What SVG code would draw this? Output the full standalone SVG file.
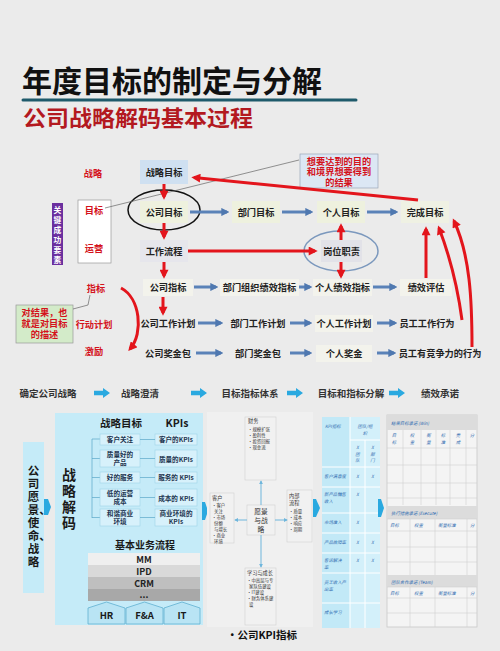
<svg xmlns="http://www.w3.org/2000/svg" width="500" height="651" viewBox="0 0 500 651">
<defs>
<style>
text{font-family:"Noto Sans CJK SC","Noto Sans",sans-serif;}
.t{font-size:9.2px;font-weight:bold;fill:#222;text-anchor:middle}
.r{font-size:9.2px;font-weight:bold;fill:#d4121b;text-anchor:middle}
.ra{stroke:#e3151c;stroke-width:3;fill:none;marker-end:url(#mr)}
.ba{stroke:#5a82b8;stroke-width:3;fill:none;marker-end:url(#mb)}
.fb{fill:#f3f3ec}
.st{font-size:9.5px;font-weight:bold;fill:#333;text-anchor:middle}
.ca{fill:#2aa9e0}
.kb{fill:#d7f1fb;stroke:#9fd3e8;stroke-width:0.6}
.kt{font-size:6.6px;font-weight:bold;fill:#1d3550;text-anchor:middle}
.bs{fill:#f1f1f1;stroke:#d2d2d2;stroke-width:0.6}
.bt{font-size:4.4px;fill:#333}
.tg{font-size:4.4px;fill:#2f6bb0;font-style:italic}
.gl{stroke:#d0d0d0;stroke-width:0.6;fill:none}
.wl{stroke:#ffffff;stroke-width:1;fill:none}
.lb{stroke:#6fb6dc;stroke-width:1;fill:none;marker-end:url(#ml)}
</style>
<marker id="mr" viewBox="0 0 10 10" refX="7" refY="5" markerWidth="3.2" markerHeight="3" orient="auto"><path d="M0,0 L10,5 L0,10 z" fill="#e3151c"/></marker>
<marker id="mb" viewBox="0 0 10 10" refX="7" refY="5" markerWidth="2.7" markerHeight="2.7" orient="auto"><path d="M0,0 L10,5 L0,10 z" fill="#4f78b0"/></marker>
<marker id="ml" viewBox="0 0 10 10" refX="8" refY="5" markerWidth="4" markerHeight="4" orient="auto"><path d="M0,0 L10,5 L0,10 z" fill="#6fb6dc"/></marker>
<path id="cy" d="M0,-2.2 H9 V-5 L16,0 L9,5 V2.2 H0 z"/>
</defs>
<rect width="500" height="651" fill="#ebebeb"/>

<!-- Title -->
<g id="title">
<text x="22" y="92" font-size="30" font-weight="bold" fill="#111">年度目标的制定与分解</text>
<line x1="23" y1="100" x2="356" y2="100" stroke="#1e5a6b" stroke-width="3" stroke-linecap="round"/>
<text x="23" y="126" font-size="22" font-weight="bold" fill="#b3191f" textLength="230" lengthAdjust="spacingAndGlyphs">公司战略解码基本过程</text>
</g>

<!-- Upper diagram nodes -->
<g id="ksf">
<rect x="52" y="203" width="11" height="62" fill="#6b2f9f"/>
<text font-size="7.8" font-weight="bold" fill="#fff" text-anchor="middle"><tspan x="57.5" y="213">关</tspan><tspan x="57.5" y="223">键</tspan><tspan x="57.5" y="233">成</tspan><tspan x="57.5" y="243">功</tspan><tspan x="57.5" y="253">要</tspan><tspan x="57.5" y="263">素</tspan></text>
</g>
<g id="lbl-zl"><text class="r" x="93" y="176.5">战略</text></g>
<g id="lbl-box">
<rect x="78" y="200" width="33" height="63" fill="#fff" stroke="#999" stroke-width="0.7"/>
<text class="r" x="94" y="213.5">目标</text>
<text class="r" x="94" y="251.5">运营</text>
</g>
<g id="callout1">
<rect x="300" y="154" width="78" height="34" fill="#dce7f4" stroke="#9aa7b8" stroke-width="0.7"/>
<text class="r" font-size="8.2"><tspan x="339" y="164.5">想要达到的目的</tspan><tspan x="339" y="175">和境界想要得到</tspan><tspan x="339" y="185.5">的结果</tspan></text>
</g>
<g id="n-zlmb"><rect x="140" y="160" width="48" height="24" fill="#cfe0f1"/><text class="t" x="164" y="175.5" font-weight="normal">战略目标</text></g>
<g id="n-gsmb"><ellipse cx="164" cy="210" rx="36" ry="20" fill="none" stroke="#111" stroke-width="1.5"/><rect x="140" y="201" width="48" height="22" fill="#eef1de"/><text class="t" x="164" y="215.5" font-weight="normal">公司目标</text></g>
<g id="n-bmmb"><rect x="232" y="201" width="48" height="22" fill="#eef1de"/><text class="t" x="256" y="215.5" font-weight="normal">部门目标</text></g>
<g id="n-grmb"><rect x="317" y="201" width="48" height="22" fill="#eef1de"/><text class="t" x="341" y="215.5" font-weight="normal">个人目标</text></g>
<g id="n-wcmb"><rect x="401" y="201" width="48" height="22" fill="#eff1e3"/><text class="t" x="425" y="215.5">完成目标</text></g>
<g id="n-gzlc"><rect x="140" y="240" width="48" height="22" fill="#e6e6ec"/><text class="t" x="164" y="254.5" font-weight="normal">工作流程</text></g>
<g id="n-gwzz"><ellipse cx="341" cy="251" rx="37" ry="20" fill="none" stroke="#7b98bd" stroke-width="1.5"/><rect x="321" y="240" width="41" height="22" fill="#e2e2e8"/><text class="t" x="341.5" y="254.5" font-weight="normal">岗位职责</text></g>

<g id="row1">
<rect class="fb" x="143" y="279" width="50" height="17"/><text class="t" x="168" y="290.5">公司指标</text>
<rect class="fb" x="220" y="279" width="79" height="17"/><text class="t" x="259.5" y="290.5">部门组织绩效指标</text>
<rect class="fb" x="313" y="279" width="59" height="17"/><text class="t" x="342.5" y="290.5">个人绩效指标</text>
<rect class="fb" x="400" y="279" width="52" height="17"/><text class="t" x="426" y="290.5">绩效评估</text>
</g>
<g id="row2">
<text class="t" x="168" y="326.5">公司工作计划</text>
<text class="t" x="258" y="326.5">部门工作计划</text>
<rect class="fb" x="315" y="315" width="58" height="17"/><text class="t" x="344" y="326.5">个人工作计划</text>
<text class="t" x="427" y="326.5">员工工作行为</text>
</g>
<g id="row3">
<text class="t" x="168" y="356.5">公司奖金包</text>
<text class="t" x="258" y="356.5">部门奖金包</text>
<rect class="fb" x="316" y="345" width="56" height="17"/><text class="t" x="344" y="356.5">个人奖金</text>
<text class="t" x="440" y="356.5">员工有竞争力的行为</text>
</g>
<g id="left-labels">
<text class="r" x="96" y="292">指标</text>
<text class="r" x="94" y="327.5">行动计划</text>
<text class="r" x="94" y="355">激励</text>
</g>
<g id="callout2">
<rect x="16" y="305" width="57" height="38" fill="#d3ebc9" stroke="#999" stroke-width="0.7"/>
<text class="r" font-size="8.6"><tspan x="44.5" y="316">对结果，也</tspan><tspan x="44.5" y="327">就是对目标</tspan><tspan x="44.5" y="338">的描述</tspan></text>
</g>

<!-- Upper connectors -->
<g id="connectors-upper">
<line x1="105" y1="208" x2="299" y2="160" stroke="#666" stroke-width="0.7"/>
<polyline points="73,309 88,305 90,295" stroke="#666" stroke-width="0.7" fill="none"/>
<line class="ra" x1="164" y1="184" x2="164" y2="197"/>
<line class="ra" x1="164" y1="223" x2="164" y2="237"/>
<line class="ra" x1="164" y1="262" x2="164" y2="276"/>
<line class="ra" x1="163" y1="297" x2="163" y2="313"/>
<line class="ra" x1="188" y1="251" x2="315" y2="251"/>
<line class="ra" x1="341" y1="240" x2="341" y2="226"/>
<line class="ra" x1="341" y1="262" x2="341" y2="276"/>
<line class="ra" x1="418" y1="200" x2="194" y2="177.5"/>
<line class="ra" x1="426" y1="278" x2="426" y2="229"/>
<path class="ra" d="M462,320 C458,290 452,262 439,228"/>
<path class="ra" d="M472,347 C472,300 470,255 454,221"/>
<path class="ra" d="M121,288 C140,298 144,333 130,349"/>
<line class="ba" x1="190" y1="212" x2="227" y2="212"/>
<line class="ba" x1="282" y1="212" x2="311" y2="212"/>
<line class="ba" x1="367" y1="212" x2="396" y2="212"/>
<line class="ba" x1="194" y1="287" x2="216" y2="287"/>
<line class="ba" x1="299" y1="287" x2="310" y2="287"/>
<line class="ba" x1="373" y1="287" x2="395" y2="287"/>
<line class="ba" x1="198" y1="323" x2="221" y2="323"/>
<line class="ba" x1="290" y1="323" x2="310" y2="323"/>
<line class="ba" x1="377" y1="323" x2="395" y2="323"/>
<line class="ba" x1="196" y1="353" x2="221" y2="353"/>
<line class="ba" x1="290" y1="353" x2="310" y2="353"/>
<line class="ba" x1="377" y1="353" x2="394" y2="353"/>
</g>

<!-- Steps row -->
<g id="steps">
<text class="st" x="48" y="396.5">确定公司战略</text>
<text class="st" x="140" y="396.5">战略澄清</text>
<text class="st" x="250" y="396.5">目标指标体系</text>
<text class="st" x="351" y="396.5">目标和指标分解</text>
<text class="st" x="440" y="396.5">绩效承诺</text>
<use href="#cy" class="ca" x="94" y="393"/>
<use href="#cy" class="ca" x="191" y="393"/>
<use href="#cy" class="ca" x="287" y="393"/>
<use href="#cy" class="ca" x="389" y="393"/>
</g>

<!-- Vision panel -->
<g id="vision">
<rect x="23" y="442" width="21" height="151" fill="#c5ebf8"/>
<text font-size="11.5" font-weight="bold" fill="#1a1a1a"><tspan x="27.8" y="474.5">公</tspan><tspan x="27.8" y="487.6">司</tspan><tspan x="27.8" y="500.7">愿</tspan><tspan x="27.8" y="513.8">景、</tspan><tspan x="27.8" y="526.9">使</tspan><tspan x="27.8" y="540">命、</tspan><tspan x="27.8" y="553.1">战</tspan><tspan x="27.8" y="566.2">略</tspan></text>
<polygon class="ca" points="44,499 48,499 51,507 48,515 44,515"/>
</g>

<!-- Strategy decoding panel -->
<g id="decoding">
<rect x="55" y="413" width="148" height="212" fill="#c5ebf8"/>
<text font-size="14" font-weight="bold" fill="#1a1a1a" text-anchor="middle"><tspan x="69" y="480">战</tspan><tspan x="69" y="496">略</tspan><tspan x="69" y="512">解</tspan><tspan x="69" y="528">码</tspan></text>
<text x="121" y="427" font-size="10.5" font-weight="bold" fill="#1a1a1a" text-anchor="middle">战略目标</text>
<text x="177" y="427" font-size="10.5" font-weight="bold" fill="#1a1a1a" text-anchor="middle" font-family="Liberation Sans, sans-serif">KPIs</text>
<path d="M92,439 V518 M92,439 H100 M92,458.5 H100 M92,477.5 H100 M92,497.5 H100 M92,517.5 H100" stroke="#5aa8c8" stroke-width="0.7" fill="none"/>
<rect class="kb" x="100" y="434" width="40" height="11"/>
<rect class="kb" x="100" y="450" width="40" height="17"/>
<rect class="kb" x="100" y="472" width="40" height="11"/>
<rect class="kb" x="100" y="489" width="40" height="17"/>
<rect class="kb" x="100" y="509" width="40" height="17"/>
<rect class="kb" x="155" y="434" width="42" height="11"/>
<rect class="kb" x="155" y="450" width="42" height="17"/>
<rect class="kb" x="155" y="472" width="42" height="11"/>
<rect class="kb" x="155" y="489" width="42" height="17"/>
<rect class="kb" x="155" y="509" width="42" height="17"/>
<path d="M140,439.5 H155 M140,458.5 H155 M140,477.5 H155 M140,497.5 H155 M140,517.5 H155" stroke="#5aa8c8" stroke-width="0.7" fill="none"/>
<text class="kt" x="120" y="442">客户关注</text>
<text class="kt"><tspan x="120" y="457">质量好的</tspan><tspan x="120" y="465">产品</tspan></text>
<text class="kt" x="120" y="480">好的服务</text>
<text class="kt"><tspan x="120" y="496">低的运营</tspan><tspan x="120" y="504">成本</tspan></text>
<text class="kt"><tspan x="120" y="516">和谐商业</tspan><tspan x="120" y="524">环境</tspan></text>
<text class="kt" x="176" y="442">客户的KPIs</text>
<text class="kt" x="176" y="461.5">质量的KPIs</text>
<text class="kt" x="176" y="480">服务的 KPIs</text>
<text class="kt" x="176" y="500.5">成本的 KPIs</text>
<text class="kt"><tspan x="176" y="516">商业环境的</tspan><tspan x="176" y="524">KPIs</tspan></text>
<text x="145" y="549" font-size="10" font-weight="bold" fill="#1a1a1a" text-anchor="middle">基本业务流程</text>
<rect x="88" y="553" width="112" height="12" fill="#efefef"/>
<rect x="88" y="565" width="112" height="12" fill="#d9d9d9"/>
<rect x="88" y="577" width="112" height="12" fill="#bfbfbf"/>
<rect x="88" y="589" width="112" height="12" fill="#a8a8a8"/>
<text font-size="9" font-weight="bold" fill="#222" text-anchor="middle" font-family="Liberation Sans, sans-serif"><tspan x="144" y="562.5">MM</tspan><tspan x="144" y="574.5">IPD</tspan><tspan x="144" y="586.5">CRM</tspan><tspan x="144" y="598">...</tspan></text>
<path d="M88,608 L106.5,602 L125,608 V624 H88 z M126,608 L144.5,602 L163,608 V624 H126 z M164,608 L182,602 L200,608 V624 H164 z" fill="#b9e4f4" stroke="#5fb0d0" stroke-width="0.8"/>
<text font-size="9.5" font-weight="bold" fill="#1a1a1a" text-anchor="middle" font-family="Liberation Sans, sans-serif"><tspan x="106.5" y="619">HR</tspan><tspan x="144.5" y="619">F&amp;A</tspan><tspan x="182" y="619">IT</tspan></text>
<polygon class="ca" points="202,502 205,502 208,511 205,520 202,520"/>
</g>

<!-- BSC panel -->
<g id="bsc">
<rect x="207" y="412" width="106" height="215" fill="#f0f0f0"/>
<rect class="bs" x="245" y="417" width="31" height="63"/>
<text class="bt"><tspan x="248" y="423" font-size="5.2">财务</tspan><tspan x="248" y="431">•规模扩张</tspan><tspan x="248" y="437">•盈利性</tspan><tspan x="248" y="443">•投资回报</tspan><tspan x="248" y="449">•现金流</tspan></text>
<rect class="bs" x="210" y="493" width="24" height="50"/>
<text class="bt"><tspan x="212" y="500" font-size="5.2">客户</tspan><tspan x="212" y="507">•客户</tspan><tspan x="214" y="513">关注</tspan><tspan x="212" y="519">•市场</tspan><tspan x="214" y="525">份额</tspan><tspan x="214" y="531">与增长</tspan><tspan x="212" y="537">•商业</tspan><tspan x="214" y="542.5">环境</tspan></text>
<rect class="bs" x="247" y="505" width="28" height="30"/>
<text font-size="6.8" fill="#333" text-anchor="middle"><tspan x="261" y="514">愿景</tspan><tspan x="261" y="523">与战</tspan><tspan x="261" y="532">略</tspan></text>
<rect class="bs" x="287" y="490" width="25" height="52"/>
<text class="bt"><tspan x="289" y="498" font-size="5.2">内部</tspan><tspan x="289" y="505" font-size="5.2">流程</tspan><tspan x="289" y="513">•质量</tspan><tspan x="289" y="519">•成本</tspan><tspan x="289" y="525">•响应</tspan><tspan x="289" y="531">•周期</tspan></text>
<rect class="bs" x="245" y="568" width="31" height="57"/>
<text class="bt"><tspan x="247" y="575" font-size="5.2">学习与成长</tspan><tspan x="247" y="582">•中高层与专</tspan><tspan x="249" y="588">家队伍建设</tspan><tspan x="247" y="594">•IT建设</tspan><tspan x="247" y="600">•财务体系建</tspan><tspan x="249" y="606">设</tspan></text>
<line class="lb" x1="261" y1="505" x2="261" y2="481"/>
<line class="lb" x1="261" y1="535" x2="261" y2="567"/>
<line class="lb" x1="247" y1="520" x2="235" y2="520"/>
<line class="lb" x1="275" y1="520" x2="287" y2="520"/>
<polygon class="ca" points="313,499 316,499 320,508 316,517 313,517"/>
<text x="262" y="639" font-size="10.5" font-weight="bold" fill="#111" text-anchor="middle">•公司KPI指标</text>
</g>

<!-- KPI table -->
<g id="kpi-table">
<rect x="322" y="417" width="58" height="211" fill="#d3f0fa"/>
<rect x="322" y="417" width="28" height="211" fill="#c2e9f7"/>
<path class="wl" d="M350,417 V628 M365,440 V628 M350,440 H380 M322,467 H380 M322,487 H380 M322,513 H380 M322,533 H380 M322,553 H380 M322,573 H380 M322,603 H380"/>
<text class="tg" x="325" y="428">KPI指标</text>
<text class="tg" text-anchor="middle"><tspan x="365" y="428">团队/组</tspan><tspan x="365" y="435">织</tspan></text>
<text class="tg" text-anchor="middle"><tspan x="357.5" y="449">X</tspan><tspan x="357.5" y="455.5">团</tspan><tspan x="357.5" y="462">队</tspan><tspan x="372.5" y="449">X</tspan><tspan x="372.5" y="455.5">部</tspan><tspan x="372.5" y="462">门</tspan></text>
<text class="tg" x="324" y="478">客户满意度</text>
<text class="tg"><tspan x="324" y="496">新产品销售</tspan><tspan x="324" y="502.5">收入</tspan></text>
<text class="tg" x="324" y="524">市场准入</text>
<text class="tg" x="324" y="544">产品故障率</text>
<text class="tg"><tspan x="324" y="562">客诉解决</tspan><tspan x="324" y="568.5">率</tspan></text>
<text class="tg"><tspan x="324" y="584">员工收入产</tspan><tspan x="324" y="590.5">出率</tspan></text>
<text class="tg" x="324" y="614">成长学习</text>
<text class="tg" text-anchor="middle"><tspan x="357.5" y="478">X</tspan><tspan x="372.5" y="478">X</tspan><tspan x="357.5" y="496">X</tspan><tspan x="357.5" y="524">X</tspan><tspan x="357.5" y="544">X</tspan><tspan x="372.5" y="544">X</tspan><tspan x="357.5" y="562">X</tspan><tspan x="372.5" y="562">X</tspan></text>
<polygon class="ca" points="378,499 381,499 384,508 381,517 378,517"/>
</g>

<!-- Commitment grid -->
<g id="commit-grid">
<rect x="387" y="415" width="90" height="212" fill="#f4f4f4" stroke="#c8c8c8" stroke-width="0.8"/>
<rect x="387" y="415" width="90" height="15" fill="#dcdcdc"/>
<text class="tg" x="391" y="425" font-style="normal">结果目标承诺 (Win)</text>
<path class="gl" d="M403,430 V505 M421,430 V505 M436,430 V505 M450,430 V505 M466,430 V505 M387,448 H477 M387,465 H477 M387,483 H477 M387,498 H477"/>
<text class="tg" font-style="normal" text-anchor="middle"><tspan x="394" y="437">目</tspan><tspan x="394" y="443.5">标</tspan><tspan x="412" y="437">权</tspan><tspan x="412" y="443.5">重</tspan><tspan x="428.5" y="437">衡</tspan><tspan x="428.5" y="443.5">量</tspan><tspan x="443" y="437">标</tspan><tspan x="443" y="443.5">准</tspan><tspan x="458" y="437">完</tspan><tspan x="458" y="443.5">成</tspan><tspan x="472" y="437">分</tspan></text>
<rect x="387" y="506" width="90" height="13" fill="#dcdcdc"/>
<text class="tg" x="391" y="515" font-style="normal">执行措施承诺 (Execute)</text>
<path class="gl" d="M387,519 H477 M387,531 H477 M387,547 H477 M387,562 H477 M410,519 V575 M435,519 V575 M467,519 V575"/>
<text class="tg" font-style="normal"><tspan x="390" y="527">目标</tspan><tspan x="414" y="527">权重</tspan><tspan x="438" y="527">衡量标准</tspan><tspan x="470" y="527">分</tspan></text>
<rect x="387" y="575" width="90" height="12" fill="#dcdcdc"/>
<text class="tg" x="391" y="583.5" font-style="normal">团队合作承诺 (Team)</text>
<path class="gl" d="M387,587 H477 M387,598 H477 M387,613 H477 M410,587 V627 M435,587 V627 M467,587 V627"/>
<text class="tg" font-style="normal"><tspan x="390" y="595">目标</tspan><tspan x="414" y="595">权重</tspan><tspan x="438" y="595">衡量标准</tspan><tspan x="470" y="595">分</tspan></text>
</g>
</svg>
